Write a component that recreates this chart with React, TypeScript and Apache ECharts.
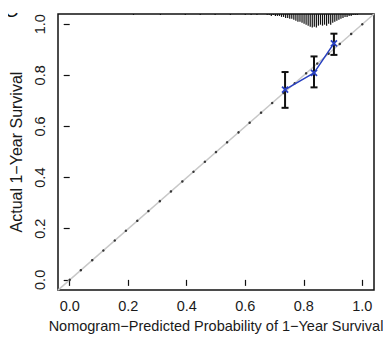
import React, { useEffect, useRef } from "react";
import * as echarts from "echarts";

const tickValues = [0, 0.2, 0.4, 0.6, 0.8, 1.0];
const tickLabels = ["0.0", "0.2", "0.4", "0.6", "0.8", "1.0"];

// calibration points: predicted, observed, lower CI, upper CI
const predicted = [0.736, 0.835, 0.903];
const observed = [0.744, 0.81, 0.925];
const lowerCI = [0.673, 0.753, 0.88];
const upperCI = [0.813, 0.874, 0.963];

// ideal-line dots
const idealDots = [
  0, 0.038, 0.077, 0.115, 0.154, 0.192, 0.231, 0.269, 0.308, 0.346, 0.385, 0.423, 0.462, 0.5,
  0.538, 0.577, 0.615, 0.654, 0.692, 0.731, 0.769, 0.808, 0.846, 0.885, 0.923, 0.962, 1,
];

// spike histogram of predicted probabilities (relative frequency)
const spikeX = [
  0.218, 0.31, 0.395, 0.446, 0.497, 0.549, 0.6, 0.62, 0.64,
  0.675, 0.682, 0.689, 0.696, 0.703, 0.71, 0.717, 0.724, 0.731, 0.738, 0.745, 0.752, 0.759,
  0.766, 0.773, 0.78, 0.787, 0.794, 0.801, 0.808, 0.815, 0.822, 0.829, 0.836, 0.843, 0.85,
  0.857, 0.864, 0.871, 0.878, 0.885, 0.892, 0.899, 0.906, 0.913, 0.92, 0.927, 0.934, 0.941,
  0.948, 0.955, 0.962, 0.969, 0.976, 0.983,
];
const spikeH = [
  1, 1, 1, 1, 1, 1, 1, 1, 1,
  1, 1, 2, 1, 2, 2, 2, 3, 3, 4, 4, 5, 5,
  6, 7, 8, 8, 9, 10, 11, 12, 13, 14, 13, 14, 12,
  11, 12, 11, 12, 10, 11, 9, 8, 7, 6, 5, 4, 3,
  3, 2, 2, 1, 1, 1,
];

const AX_MIN = -0.04;
const AX_MAX = 1.04;
const FONT = "Liberation Sans, Arial, sans-serif";
const TXT = "#1a1a1a";

export default function App() {
  const ref = useRef<HTMLDivElement>(null);
  useEffect(() => {
    if (!ref.current) return;
    const chart = echarts.init(ref.current, undefined, { renderer: "svg" });
    const spikeScale = 0.0038;
    const fmt = (v: number) => tickLabels[tickValues.findIndex((t) => Math.abs(t - v) < 1e-6)] ?? "";
    chart.setOption({
      animation: false,
      backgroundColor: "#fff",
      textStyle: { fontFamily: FONT },
      title: {
        text: "C",
        left: 0,
        top: 0,
        padding: [0, 4],
        textStyle: { fontSize: 20, fontWeight: "normal", color: "#111", fontFamily: FONT },
      },
      grid: {
        left: 58,
        right: 17,
        top: 14,
        bottom: 42,
        show: true,
        borderColor: "#111",
        borderWidth: 1.5,
        backgroundColor: "transparent",
      },
      xAxis: {
        type: "value",
        min: AX_MIN,
        max: AX_MAX,
        splitLine: { show: false },
        axisLine: { show: false },
        axisTick: { show: true, length: 6, customValues: tickValues, lineStyle: { color: "#111", width: 1.2 } },
        axisLabel: {
          customValues: tickValues,
          formatter: fmt,
          fontSize: 14.5,
          color: TXT,
          fontFamily: FONT,
          margin: 8,
        },
        name: "Nomogram\u2212Predicted Probability of 1\u2212Year Survival",
        nameLocation: "middle",
        nameGap: 27,
        nameTextStyle: { fontSize: 14.5, color: TXT, fontFamily: FONT },
      },
      yAxis: {
        type: "value",
        min: AX_MIN,
        max: AX_MAX,
        splitLine: { show: false },
        axisLine: { show: false },
        axisTick: { show: true, length: 6, customValues: tickValues, lineStyle: { color: "#111", width: 1.2 } },
        axisLabel: {
          customValues: tickValues,
          formatter: fmt,
          fontSize: 14.5,
          color: TXT,
          fontFamily: FONT,
          rotate: 90,
          margin: 11,
        },
        name: "Actual 1\u2212Year Survival",
        nameLocation: "middle",
        nameGap: 33,
        nameTextStyle: { fontSize: 16, color: TXT, fontFamily: FONT },
      },
      series: [
        {
          type: "line",
          data: [
            [AX_MIN, AX_MIN],
            [AX_MAX, AX_MAX],
          ],
          symbol: "none",
          lineStyle: { color: "#c8c8c8", width: 1.5 },
          silent: true,
          z: 1,
        },
        {
          type: "scatter",
          data: idealDots.map((d) => [d, d]),
          symbolSize: 2.5,
          itemStyle: { color: "#111" },
          z: 2,
        },
        {
          type: "custom",
          data: spikeX.map((x, i) => [x, spikeH[i]]),
          renderItem: (params: any, api: any) => {
            const x = api.value(0);
            const h = api.value(1);
            const p1 = api.coord([x, AX_MAX]);
            const p2 = api.coord([x, AX_MAX - h * spikeScale]);
            return {
              type: "line",
              shape: { x1: p1[0], y1: p1[1], x2: p2[0], y2: p2[1] },
              style: { stroke: "#111", lineWidth: 1.2 },
            };
          },
          z: 3,
        },
        {
          type: "custom",
          data: predicted.map((x, i) => [x, lowerCI[i], upperCI[i]]),
          renderItem: (params: any, api: any) => {
            const x = api.value(0);
            const lo = api.coord([x, api.value(1)]);
            const hi = api.coord([x, api.value(2)]);
            const w = 3.5;
            const st = { stroke: "#111", lineWidth: 2 };
            return {
              type: "group",
              children: [
                { type: "line", shape: { x1: lo[0], y1: lo[1], x2: hi[0], y2: hi[1] }, style: st },
                { type: "line", shape: { x1: lo[0] - w, y1: lo[1], x2: lo[0] + w, y2: lo[1] }, style: st },
                { type: "line", shape: { x1: hi[0] - w, y1: hi[1], x2: hi[0] + w, y2: hi[1] }, style: st },
              ],
            };
          },
          z: 4,
        },
        {
          type: "line",
          data: predicted.map((x, i) => [x, observed[i]]),
          symbol: "path://M0,0L10,10M10,0L0,10",
          symbolSize: 6,
          itemStyle: { color: "none", borderColor: "#2840c0", borderWidth: 1.8 },
          lineStyle: { color: "#2840c0", width: 1.5 },
          z: 5,
        },
      ],
    });
    return () => chart.dispose();
  }, []);
  return <div ref={ref} style={{ width: 391, height: 338, marginLeft: -8, marginTop: -8 }} />;
}
